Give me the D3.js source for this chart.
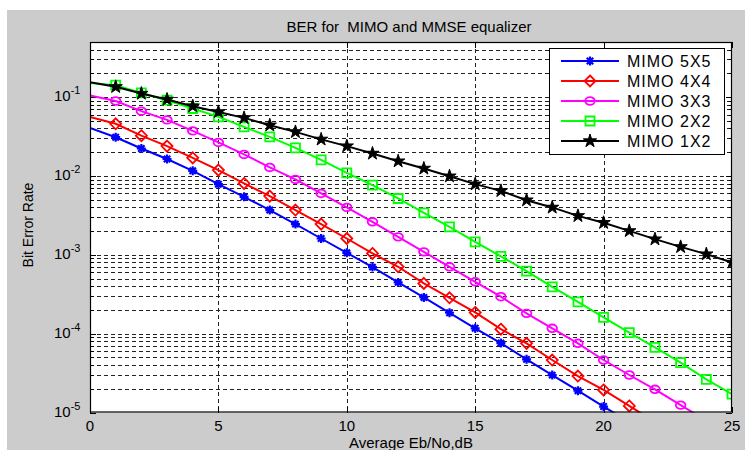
<html lang="en">
<head>
  <meta charset="UTF-8" />
  <title>BER for MIMO and MMSE equalizer</title>
  <style>
    body { margin: 0; background: #fff; }
    svg { display: block; font-family: "Liberation Sans", Arial, sans-serif; }
    .grid line { stroke: #222; stroke-width: 1; stroke-dasharray: 4,3; shape-rendering: crispEdges; }
    .tick-mark { stroke: #000; stroke-width: 1; shape-rendering: crispEdges; }
  </style>
</head>
<body>
  <svg width="745" height="450"></svg>

  <script src="https://d3js.org/d3.v7.min.js"></script>
  <script>
    // Eb/No in dB
    const ebno = d3.range(0, 26);

    const ber5x5 = [0.0405, 0.0310, 0.0223, 0.0164, 0.01161, 0.00787, 0.00543, 0.00369, 0.00245, 0.00161,
      0.00106, 0.000698, 0.000447, 0.000288, 0.000184, 0.000117, 7.60e-5, 4.72e-5, 2.98e-5, 1.89e-5,
      1.19e-5, 7.6e-6];
    const ber4x4 = [0.0560, 0.0459, 0.0324, 0.0239, 0.01696, 0.01186, 0.00804, 0.00555, 0.00369, 0.00245,
      0.00161, 0.00104, 0.000705, 0.000434, 0.000285, 0.000186, 0.000114, 7.53e-5, 4.63e-5, 2.90e-5,
      1.93e-5, 1.21e-5, 7.6e-6];
    const ber3x3 = [0.1050, 0.0893, 0.0663, 0.0514, 0.0373, 0.0266, 0.01875, 0.01282, 0.00903, 0.0060,
      0.00399, 0.00262, 0.00169, 0.00109, 0.000705, 0.000455, 0.000294, 0.000181, 0.000117, 7.54e-5,
      4.63e-5, 2.99e-5, 1.97e-5, 1.24e-5, 7.9e-6];
    const ber2x2 = [0.151, 0.1416, 0.113, 0.0914, 0.0717, 0.0561, 0.0419, 0.0313, 0.0227, 0.0160,
      0.01094, 0.00764, 0.00518, 0.00341, 0.00226, 0.00146, 0.000955, 0.000621, 0.000393, 0.000253,
      0.000161, 0.000103, 6.70e-5, 4.28e-5, 2.63e-5, 1.71e-5];
    const ber1x2 = [0.154, 0.135, 0.111, 0.0933, 0.0767, 0.0649, 0.0545, 0.0440, 0.0362, 0.0291,
      0.0239, 0.0193, 0.0154, 0.01245, 0.00993, 0.00787, 0.00647, 0.00493, 0.00399, 0.00312,
      0.00255, 0.00201, 0.00158, 0.00126, 0.00102, 0.00080];

    const seriesNames = ["MIMO 5X5", "MIMO 4X4", "MIMO 3X3", "MIMO 2X2", "MIMO 1X2"];
    const seriesValues = [ber5x5, ber4x4, ber3x3, ber2x2, ber1x2];
    const seriesColors = ["#0000ff", "#ff0000", "#ff00ff", "#00ff00", "#000000"];
    const seriesMarkers = ["asterisk", "diamond", "circle", "square", "star"];

    const xTicks = [0, 5, 10, 15, 20, 25];
    const yExponents = [-1, -2, -3, -4, -5];

    const svg = d3.select("svg");
    const W = 745, H = 450;
    const plot = { left: 90, top: 42, right: 732, bottom: 412.5 };

    // figure background
    svg.append("rect").attr("x", 7).attr("y", 10).attr("width", W - 7).attr("height", H - 10).attr("fill", "#cccccc");

    const x = d3.scaleLinear().domain([0, 25]).range([plot.left, plot.right]);
    const y = d3.scaleLog().domain([1e-5, 0.5]).range([plot.bottom, plot.top]);

    svg.append("rect")
      .attr("x", plot.left).attr("y", plot.top)
      .attr("width", plot.right - plot.left).attr("height", plot.bottom - plot.top)
      .attr("fill", "#fff");

    // grid
    const grid = svg.append("g").attr("class", "grid");
    const yGrid = [];
    for (let e = -5; e <= -1; e++) {
      for (let m = 1; m <= 9; m++) {
        const v = m * Math.pow(10, e);
        if (v > 1e-5 && v < 0.5) yGrid.push(v);
      }
    }
    grid.selectAll(".yg").data(yGrid).join("line").attr("class", "yg")
      .attr("x1", plot.left).attr("x2", plot.right)
      .attr("y1", d => Math.round(y(d)) + 0.5).attr("y2", d => Math.round(y(d)) + 0.5);
    grid.selectAll(".xg").data(xTicks.slice(1, -1)).join("line").attr("class", "xg")
      .attr("y1", plot.top).attr("y2", plot.bottom)
      .attr("x1", d => Math.round(x(d)) + 0.5).attr("x2", d => Math.round(x(d)) + 0.5);

    // ticks (inward)
    const ticks = svg.append("g");
    const tl = 6;
    xTicks.forEach(t => {
      const px = Math.round(x(t)) + 0.5;
      ticks.append("line").attr("class", "tick-mark").attr("x1", px).attr("x2", px).attr("y1", plot.bottom).attr("y2", plot.bottom - tl);
      ticks.append("line").attr("class", "tick-mark").attr("x1", px).attr("x2", px).attr("y1", plot.top).attr("y2", plot.top + tl);
    });
    yGrid.concat([1e-5]).forEach(v => {
      const py = Math.round(y(v)) + 0.5;
      const len = Math.abs(Math.log10(v) - Math.round(Math.log10(v))) < 1e-9 ? tl : 3.5;
      ticks.append("line").attr("class", "tick-mark").attr("x1", plot.left).attr("x2", plot.left + len).attr("y1", py).attr("y2", py);
      ticks.append("line").attr("class", "tick-mark").attr("x1", plot.right).attr("x2", plot.right - len).attr("y1", py).attr("y2", py);
    });

    // series
    svg.append("clipPath").attr("id", "plotclip").append("rect")
      .attr("x", plot.left).attr("y", plot.top)
      .attr("width", plot.right - plot.left).attr("height", plot.bottom - plot.top);

    function markerPath(type) {
      if (type === "asterisk") return "M-4.5,0H4.5M0,-4.5V4.5M-3.2,-3.2L3.2,3.2M-3.2,3.2L3.2,-3.2";
      if (type === "diamond") return "M0,-5.5L5.5,0L0,5.5L-5.5,0Z";
      if (type === "circle") return "M-4.8,0A4.8,3.8 0 1,0 4.8,0A4.8,3.8 0 1,0 -4.8,0Z";
      if (type === "square") return "M-4.5,-4.5H4.5V4.5H-4.5Z";
      return d3.symbol().type(d3.symbolStar).size(55)();
    }

    function drawMarker(g, type, color) {
      const p = g.append("path").attr("d", markerPath(type)).attr("stroke", color);
      if (type === "star") p.attr("fill", color).attr("stroke-width", 1);
      else p.attr("fill", "none").attr("stroke-width", type === "asterisk" ? 2.2 : 1.8);
    }

    const line = d3.line().x(d => x(d[0])).y(d => y(d[1]));
    const series = svg.append("g").attr("clip-path", "url(#plotclip)");
    seriesValues.forEach((vals, i) => {
      const pts = vals.map((v, k) => [ebno[k], v]);
      series.append("path").datum(pts).attr("d", line)
        .attr("fill", "none").attr("stroke", seriesColors[i]).attr("stroke-width", 2);
      pts.filter(p => p[0] > 0).forEach(p => {
        const g = series.append("g").attr("transform", `translate(${x(p[0])},${y(p[1])})`);
        drawMarker(g, seriesMarkers[i], seriesColors[i]);
      });
    });

    // axes box
    svg.append("rect")
      .attr("x", plot.left + 0.5).attr("y", plot.top + 0.5)
      .attr("width", plot.right - plot.left - 1).attr("height", plot.bottom - plot.top - 1)
      .attr("fill", "none").attr("stroke", "#000").attr("stroke-width", 1.2);

    // tick labels
    svg.selectAll(".xl").data(xTicks).join("text").attr("class", "xl")
      .attr("x", d => x(d)).attr("y", 431)
      .attr("text-anchor", "middle").attr("font-size", 15).text(d => d);

    yExponents.forEach(e => {
      const t = svg.append("text").attr("x", 54).attr("y", y(Math.pow(10, e)) + 4).attr("font-size", 15);
      t.append("tspan").text("10");
      t.append("tspan").attr("dy", -7).attr("font-size", 11).text("-" + (-e));
    });

    // title & labels
    svg.append("text").attr("x", 409).attr("y", 32).attr("text-anchor", "middle")
      .attr("font-size", 15).style("white-space", "pre").text("BER for  MIMO and MMSE equalizer");
    svg.append("text").attr("x", 411).attr("y", 448).attr("text-anchor", "middle")
      .attr("font-size", 15).text("Average Eb/No,dB");
    svg.append("text").attr("transform", "translate(33,225) rotate(-90)").attr("text-anchor", "middle")
      .attr("font-size", 14).text("Bit Error Rate");

    // legend
    const leg = { x: 549, y: 48, w: 175, h: 106 };
    const lg = svg.append("g");
    lg.append("rect").attr("x", leg.x + 0.5).attr("y", leg.y + 0.5).attr("width", leg.w).attr("height", leg.h)
      .attr("fill", "#fff").attr("stroke", "#000").attr("stroke-width", 1);
    seriesNames.forEach((name, i) => {
      const cy = 61 + i * 20;
      lg.append("line").attr("x1", 561).attr("x2", 619).attr("y1", cy).attr("y2", cy)
        .attr("stroke", seriesColors[i]).attr("stroke-width", 2);
      const g = lg.append("g").attr("transform", `translate(590,${cy})`);
      drawMarker(g, seriesMarkers[i], seriesColors[i]);
      lg.append("text").attr("x", 627).attr("y", cy + 6).attr("font-size", 16)
        .attr("letter-spacing", 1).text(name);
    });
  </script>
</body>
</html>
